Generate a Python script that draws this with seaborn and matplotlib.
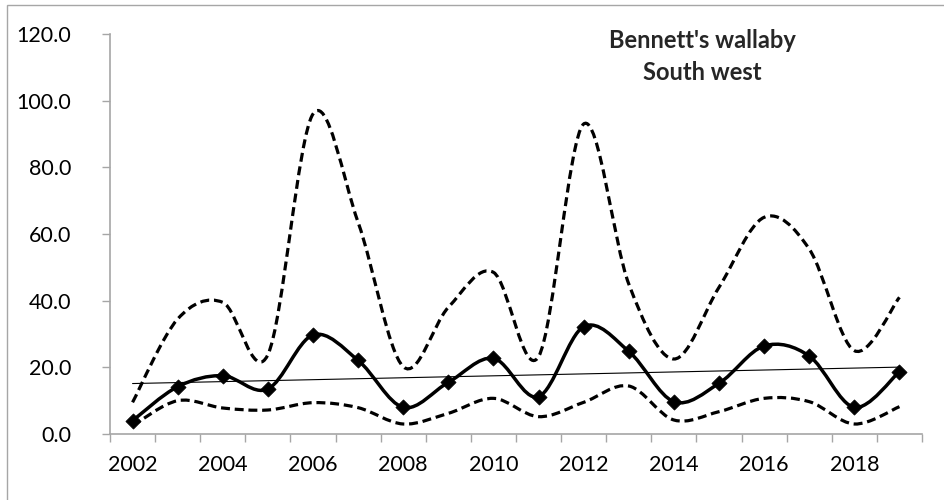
import numpy as np
import pandas as pd
import matplotlib
matplotlib.use("Agg")
import matplotlib.pyplot as plt
from matplotlib.path import Path
from matplotlib.patches import PathPatch, Rectangle
import seaborn as sns

years = [2002, 2003, 2004, 2005, 2006, 2007, 2008, 2009, 2010,
         2011, 2012, 2013, 2014, 2015, 2016, 2017, 2018, 2019]
mean_vals = [4.0, 14.2, 17.5, 13.5, 29.7, 22.1, 8.0, 15.5, 22.7,
             11.2, 32.2, 24.8, 9.7, 15.2, 26.4, 23.4, 8.0, 18.7]
lower_vals = [2.5, 10.0, 7.8, 7.2, 9.4, 7.9, 3.0, 6.2, 10.7,
              5.2, 9.5, 14.4, 4.2, 6.7, 10.7, 9.7, 3.0, 8.2]
upper_vals = [9.5, 34.5, 39.5, 23.8, 96.0, 63.5, 20.2, 38.0, 48.5,
              23.2, 93.0, 45.0, 22.5, 44.0, 65.0, 55.5, 25.0, 41.0]
ytick_vals = [0, 20, 40, 60, 80, 100, 120]
xtick_labels = [2002, 2004, 2006, 2008, 2010, 2012, 2014, 2016, 2018]
title_lines = ["Bennett's wallaby", "South west"]

df = pd.DataFrame({"year": years, "mean": mean_vals,
                   "lower": lower_vals, "upper": upper_vals})

sns.set_theme(style="white")
plt.rcParams["font.family"] = ["Lato", "DejaVu Sans"]

fig = plt.figure(figsize=(9.44, 5.0), dpi=100)
ax = fig.add_axes([110 / 944, (500 - 434) / 500, (922 - 110) / 944, 400 / 500])

# outer chart border (Excel chart area)
fig.patches.append(Rectangle((7 / 944, -0.1), 1.2, (500 - 5) / 500 + 0.1,
                             transform=fig.transFigure, fill=False,
                             edgecolor="#a6a6a6", linewidth=1.0))


def smooth_path(xs, ys):
    pts = np.column_stack([xs, ys]).astype(float)
    n = len(pts)
    verts = [tuple(pts[0])]
    codes = [Path.MOVETO]
    for i in range(n - 1):
        p0 = pts[i - 1] if i > 0 else pts[i]
        p1 = pts[i]
        p2 = pts[i + 1]
        p3 = pts[i + 2] if i + 2 < n else pts[i + 1]
        c1 = p1 + (p2 - p0) / 6.0
        c2 = p2 - (p3 - p1) / 6.0
        verts += [tuple(c1), tuple(c2), tuple(p2)]
        codes += [Path.CURVE4] * 3
    return Path(verts, codes)


dash = (0, (2.8, 1.5))
for col in ["upper", "lower"]:
    ax.add_patch(PathPatch(smooth_path(df["year"], df[col]), fill=False,
                           edgecolor="black", linewidth=2.3, linestyle=dash,
                           capstyle="butt", zorder=2))
ax.add_patch(PathPatch(smooth_path(df["year"], df["mean"]), fill=False,
                       edgecolor="black", linewidth=2.5, zorder=3))

sns.regplot(data=df, x="year", y="mean", ax=ax, scatter=False, ci=None,
            line_kws=dict(color="black", linewidth=0.8, zorder=4))

sns.scatterplot(data=df, x="year", y="mean", ax=ax, marker="D", s=60,
                color="black", edgecolor="black", linewidth=0.5, zorder=5)

ax.set_xlim(years[0] - 0.5, years[-1] + 0.5)
ax.set_ylim(0, 120)
ax.set_xlabel("")
ax.set_ylabel("")

ax.set_yticks(ytick_vals)
ax.set_yticklabels([f"{v:.1f}" for v in ytick_vals])
ax.set_xticks(np.arange(years[0] - 0.5, years[-1] + 0.6, 1.0))
ax.set_xticklabels([])
ax.set_xticks(xtick_labels, minor=True)
ax.set_xticklabels([str(v) for v in xtick_labels], minor=True)

ax.tick_params(axis="x", which="major", direction="out", length=6,
               width=1, color="#a6a6a6", bottom=True)
ax.tick_params(axis="x", which="minor", length=0, pad=15, labelsize=15.5,
               labelcolor="black", bottom=True)
ax.tick_params(axis="y", direction="out", length=6, width=1,
               color="#a6a6a6", left=True, pad=22, labelsize=15.5,
               labelcolor="black")

for s in ["top", "right"]:
    ax.spines[s].set_visible(False)
for s in ["left", "bottom"]:
    ax.spines[s].set_color("#a6a6a6")
    ax.spines[s].set_linewidth(1.2)
ax.grid(False)

fig.text(702 / 944, 1 - 41 / 500, title_lines[0], ha="center", va="center",
         fontsize=17, fontweight="bold")
fig.text(702 / 944, 1 - 73 / 500, title_lines[1], ha="center", va="center",
         fontsize=17, fontweight="bold")

fig.savefig("out.png", dpi=100)
